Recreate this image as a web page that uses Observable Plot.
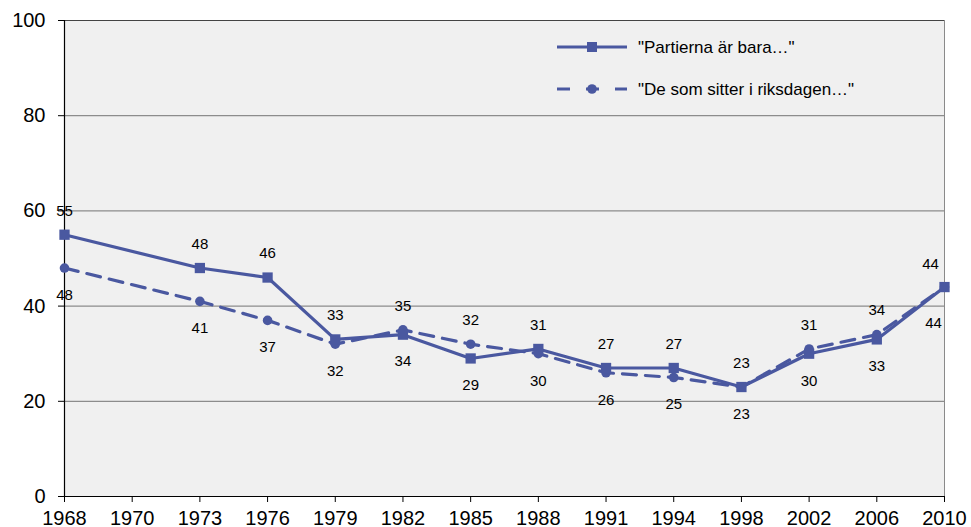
<!DOCTYPE html>
<html>
<head>
<meta charset="utf-8">
<script src="https://cdn.jsdelivr.net/npm/d3@7"></script>
<script src="https://cdn.jsdelivr.net/npm/@observablehq/plot@0.6"></script>
<style>
  html, body { margin: 0; padding: 0; background: #ffffff; }
  svg { font-family: "Liberation Sans", Arial, sans-serif; }
</style>
</head>
<body>
<div id="chart"></div>
<script>
const xLabels = ["1968","1970","1973","1976","1979","1982","1985","1988","1991","1994","1998","2002","2006","2010"];
const years = ["1968","1973","1976","1979","1982","1985","1988","1991","1994","1998","2002","2006","2010"];
const partierna = [55,48,46,33,34,29,31,27,27,23,30,33,44];
const riksdagen = [48,41,37,32,35,32,30,26,25,23,31,34,44];
const seriesNames = ["\"Partierna är bara…\"", "\"De som sitter i riksdagen…\""];
const yTicks = [0,20,40,60,80,100];

const color = "#4a58a0";

const s1 = years.map((y, i) => ({year: y, v: partierna[i], other: riksdagen[i], i}));
const s2 = years.map((y, i) => ({year: y, v: riksdagen[i], other: partierna[i], i}));

const last = years.length - 1;
// series 1 label goes above when it is >= series 2, otherwise below; series 2 the opposite
const s1Above = s1.filter(d => d.v >= d.other);
const s1Below = s1.filter(d => d.v < d.other);
const s2Above = s2.filter(d => d.v > d.other);
const s2Below = s2.filter(d => d.v <= d.other);

const lblStyle = {fontSize: 15, fill: "#000"};

const W = 971, H = 527, mL = 64, mR = 27, mT = 20, mB = 31;

const plot = Plot.plot({
  width: W,
  height: H,
  marginLeft: mL,
  marginRight: mR,
  marginTop: mT,
  marginBottom: mB,
  style: {fontFamily: "'Liberation Sans', Arial, sans-serif", background: "#ffffff", overflow: "visible"},
  x: {type: "point", domain: xLabels, range: [mL, W - mR], padding: 0, round: false, label: null},
  y: {domain: [0, 100], range: [H - mB, mT], label: null},
  marks: [
    Plot.frame({fill: "#f0f0f0", stroke: "#8a8a8a", strokeWidth: 1}),
    Plot.gridY(yTicks.filter(t => t > 0 && t < 100), {stroke: "#8c8c8c", strokeOpacity: 1, strokeWidth: 1.2}),
    Plot.ruleY([100], {stroke: "#444", strokeWidth: 1}),
    Plot.ruleX([xLabels[0]], {stroke: "#000", strokeWidth: 1.2}),
    Plot.ruleY([0], {stroke: "#000", strokeWidth: 1.2}),
    Plot.axisY({ticks: yTicks, tickSize: 6, tickPadding: 13, fontSize: 20, stroke: "#000", color: "#000", label: null}),
    Plot.axisX({tickSize: 6, tickPadding: 8, fontSize: 20, color: "#000", label: null}),
    Plot.line(s2, {x: "year", y: "v", stroke: color, strokeWidth: 3.2, strokeDasharray: "14,9"}),
    Plot.dot(s2, {x: "year", y: "v", fill: color, r: 4.8, symbol: "circle"}),
    Plot.line(s1, {x: "year", y: "v", stroke: color, strokeWidth: 3.2}),
    Plot.dot(s1, {x: "year", y: "v", fill: color, r: 5.8, symbol: "square"}),
    Plot.text(s1Above.filter(d => d.i !== last), {x: "year", y: "v", text: "v", dy: -24, ...lblStyle}),
    Plot.text(s1Above.filter(d => d.i === last), {x: "year", y: "v", text: "v", dy: -23, dx: -14, ...lblStyle}),
    Plot.text(s1Below, {x: "year", y: "v", text: "v", dy: 27, ...lblStyle}),
    Plot.text(s2Above, {x: "year", y: "v", text: "v", dy: -24, ...lblStyle}),
    Plot.text(s2Below.filter(d => d.i !== last), {x: "year", y: "v", text: "v", dy: 27, ...lblStyle}),
    Plot.text(s2Below.filter(d => d.i === last), {x: "year", y: "v", text: "v", dy: 36, dx: -11, ...lblStyle})
  ]
});

// Legend inside the plot area
const svg = d3.select(plot);
const lg = svg.append("g")
  .attr("font-family", "'Liberation Sans', Arial, sans-serif")
  .attr("font-size", 17)
  .attr("text-anchor", "start");
const rows = [
  {y: 47, dash: false, sym: "square", name: seriesNames[0]},
  {y: 89, dash: true, sym: "circle", name: seriesNames[1]}
];
rows.forEach(r => {
  lg.append("line").attr("x1", 557).attr("x2", 627).attr("y1", r.y).attr("y2", r.y)
    .attr("stroke", color).attr("stroke-width", 3.2)
    .attr("stroke-dasharray", r.dash ? "13,16" : null);
  if (r.sym === "square") {
    lg.append("rect").attr("x", 587).attr("y", r.y - 5).attr("width", 10).attr("height", 10).attr("fill", color);
  } else {
    lg.append("circle").attr("cx", 592).attr("cy", r.y).attr("r", 4.8).attr("fill", color);
  }
  lg.append("text").attr("x", 638).attr("y", r.y).attr("dy", "0.35em").attr("fill", "#000").text(r.name);
});

document.getElementById("chart").appendChild(plot);
</script>
</body>
</html>
